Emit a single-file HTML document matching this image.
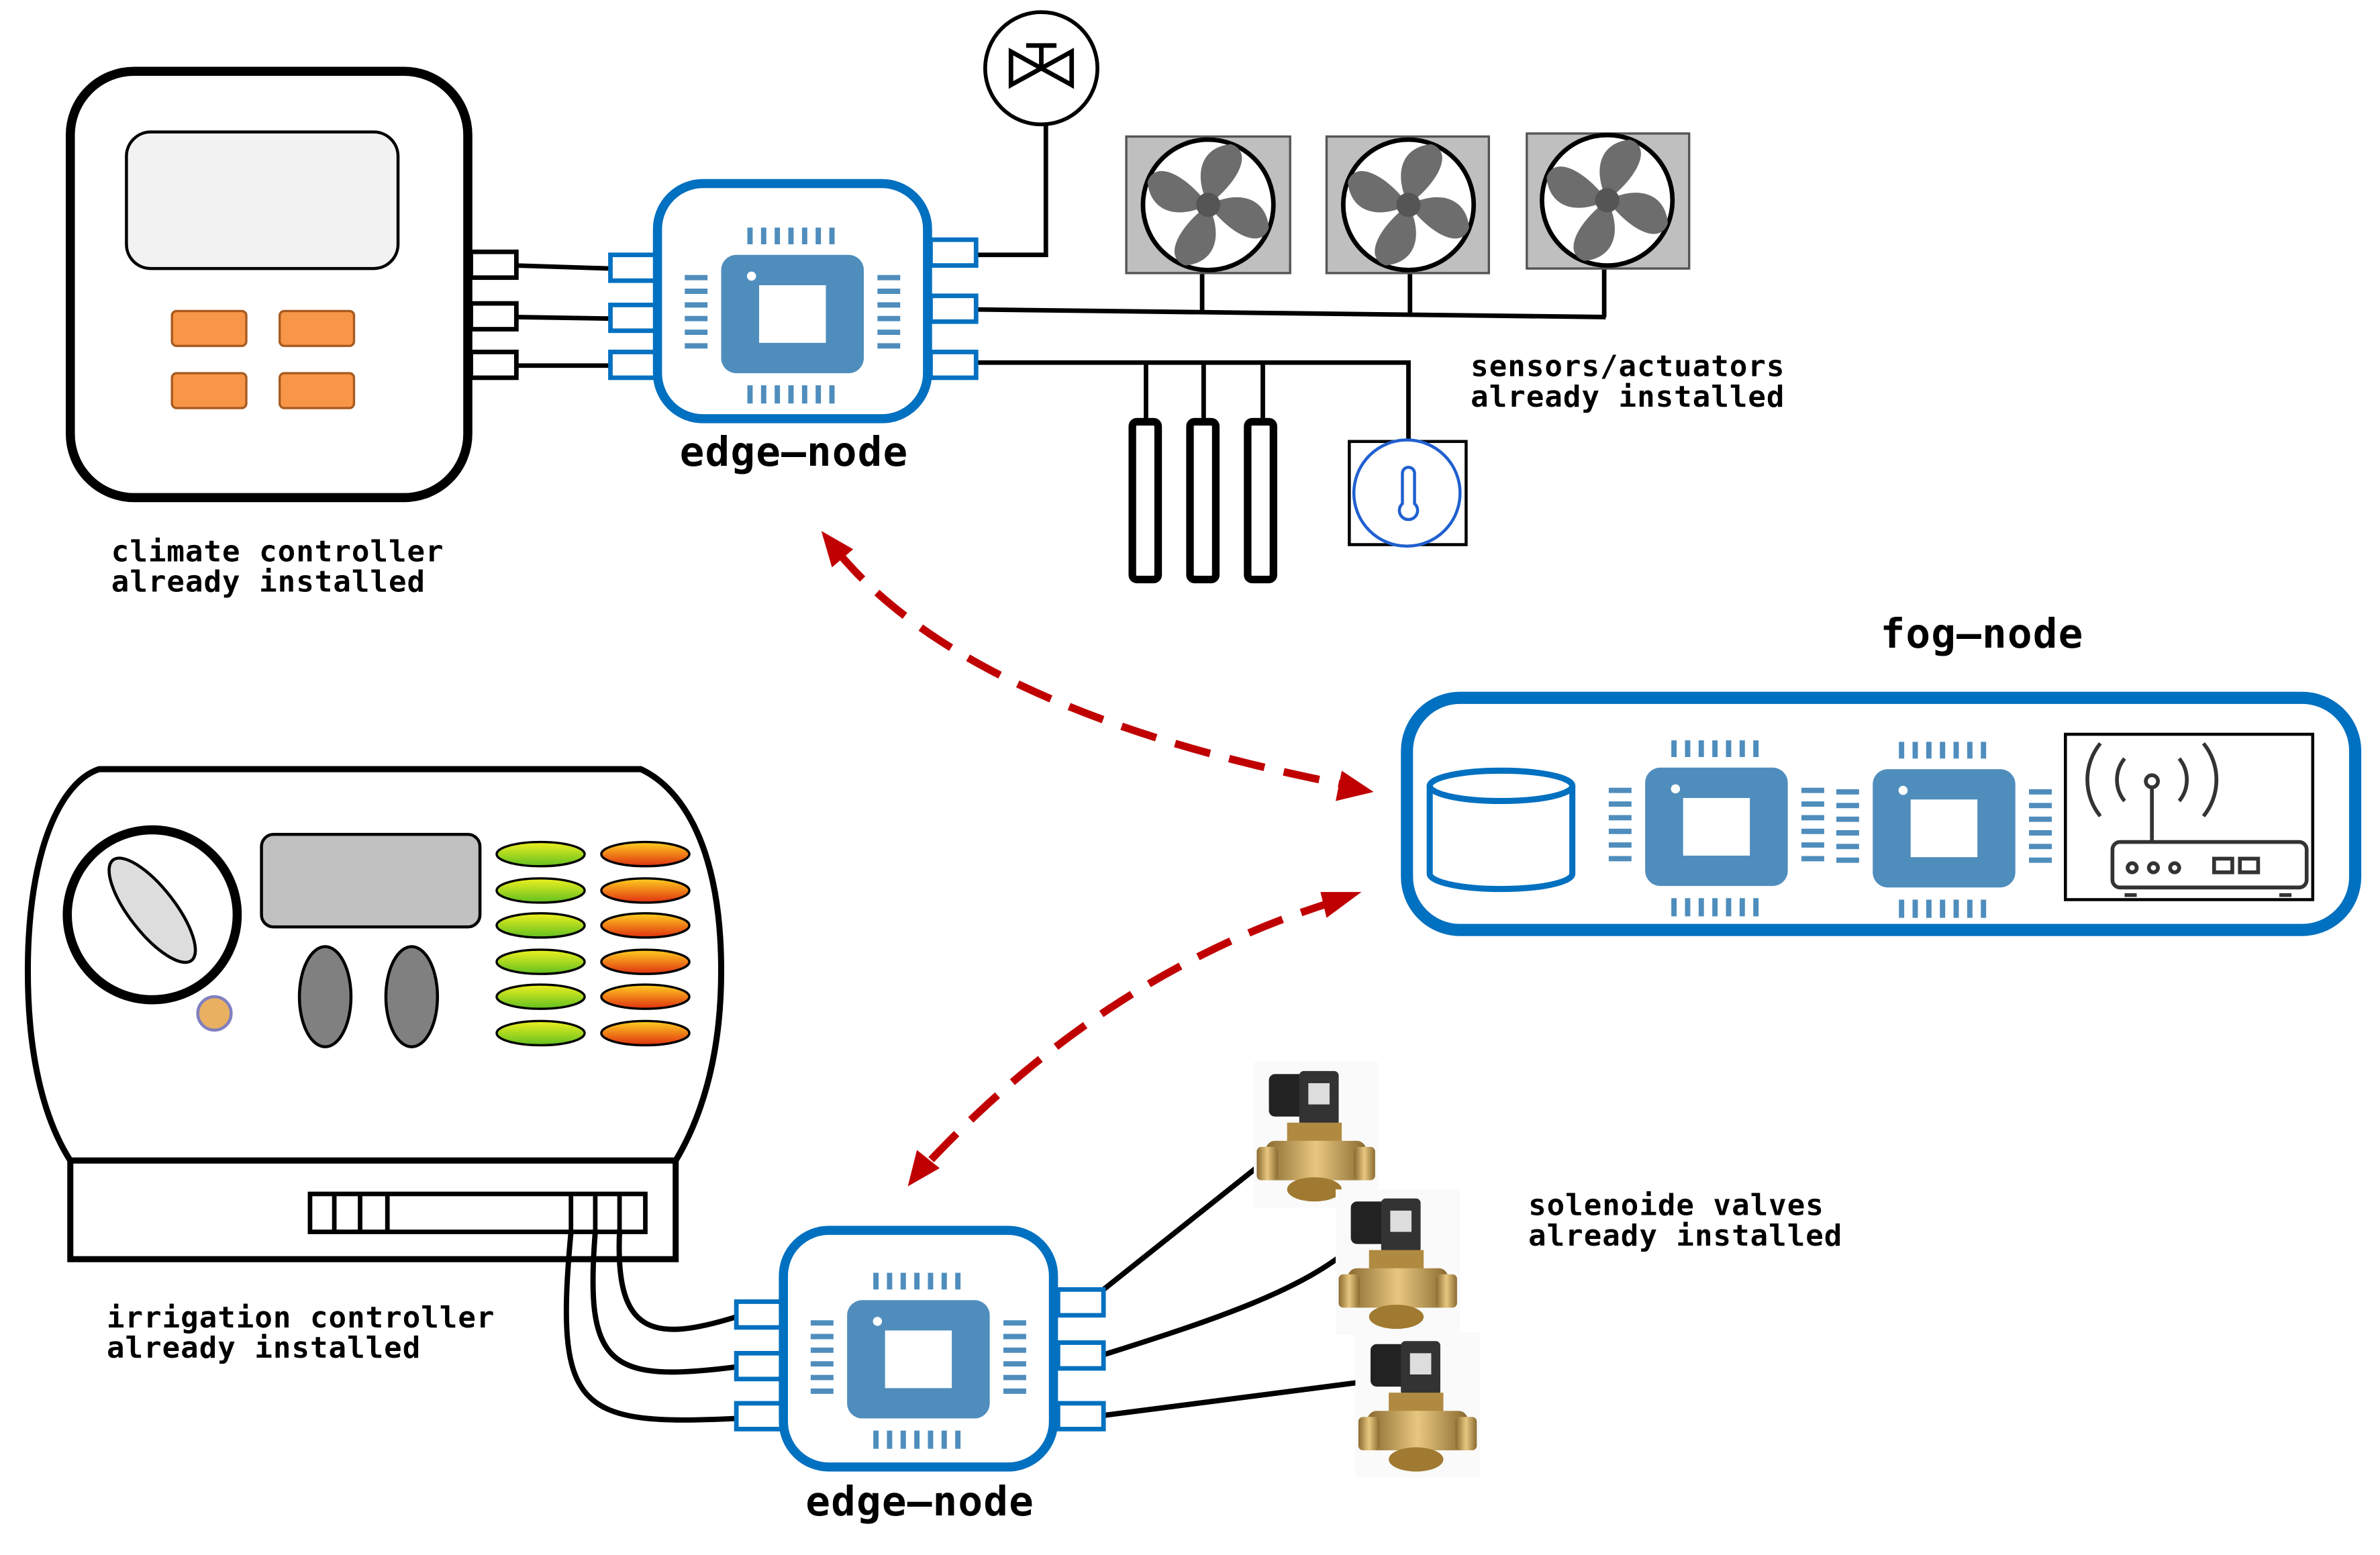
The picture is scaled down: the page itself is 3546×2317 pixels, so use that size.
<!DOCTYPE html>
<html><head><meta charset="utf-8"><style>html,body{margin:0;padding:0;background:#fff}svg{display:block}</style></head><body>
<svg width="3546" height="2317" viewBox="0 0 1568 1025" xmlns="http://www.w3.org/2000/svg">
<defs>
<linearGradient id="gy" x1="0" y1="0" x2="0" y2="1"><stop offset="0" stop-color="#f0f020"/><stop offset="1" stop-color="#60c020"/></linearGradient>
<linearGradient id="or" x1="0" y1="0" x2="0" y2="1"><stop offset="0" stop-color="#ffd020"/><stop offset="1" stop-color="#e03010"/></linearGradient>
<linearGradient id="br" x1="0" y1="0" x2="1" y2="0"><stop offset="0" stop-color="#8a6a30"/><stop offset=".5" stop-color="#e8c880"/><stop offset="1" stop-color="#8a6a30"/></linearGradient>
<g id="chip">
<rect x="-47" y="-39" width="94" height="78" rx="10" fill="#4f8dbd"/>
<rect x="-22" y="-19" width="44" height="38" fill="#fff"/>
<circle cx="-27" cy="-25" r="3" fill="#fff"/>
<g stroke="#4f8dbd" stroke-width="3.5">
<path d="M-28 -57v11M-19 -57v11M-10 -57v11M-1 -57v11M8 -57v11M17 -57v11M26 -57v11"/>
<path d="M-28 47v12M-19 47v12M-10 47v12M-1 47v12M8 47v12M17 47v12M26 47v12"/>
<path d="M-71 -24h15M-71 -15h15M-71 -6h15M-71 3h15M-71 12h15M-71 21h15"/>
<path d="M56 -24h15M56 -15h15M56 -6h15M56 3h15M56 12h15M56 21h15"/>
</g></g>
<g id="fan">
<circle cx="0" cy="0" r="43" fill="#fff" stroke="#000" stroke-width="3"/>
<g fill="#6d6d6d">
<path d="M0 0 C-10 -20 -5 -38 15 -40 C30 -35 20 -15 0 0Z"/>
<path d="M0 0 C20 -10 38 -5 40 15 C35 30 15 20 0 0Z"/>
<path d="M0 0 C10 20 5 38 -15 40 C-30 35 -20 15 0 0Z"/>
<path d="M0 0 C-20 10 -38 5 -40 -15 C-35 -30 -15 -20 0 0Z"/>
</g><circle r="8" fill="#555"/></g>
<g id="valve">
<rect x="0" y="0" width="82" height="96" fill="#fafafa"/>
<rect x="10" y="8" width="40" height="28" rx="4" fill="#222"/>
<rect x="30" y="6" width="26" height="36" rx="3" fill="#333"/>
<rect x="36" y="14" width="14" height="14" fill="#ddd"/>
<rect x="22" y="40" width="36" height="14" fill="#b08a40"/>
<rect x="8" y="52" width="66" height="26" rx="6" fill="url(#br)"/>
<rect x="2" y="56" width="14" height="22" rx="3" fill="url(#br)"/>
<rect x="66" y="56" width="14" height="22" rx="3" fill="url(#br)"/>
<ellipse cx="40" cy="84" rx="18" ry="8" fill="#a07a30"/>
</g>
</defs>

<rect x="46" y="47" width="262" height="281" rx="42" fill="#fff" stroke="#000" stroke-width="6"/>
<rect x="83" y="87" width="179" height="90" rx="16" fill="#f2f2f2" stroke="#000" stroke-width="2"/>
<g fill="#f79646" stroke="#a85b20" stroke-width="1.5">
<rect x="113" y="205" width="49" height="23" rx="3"/><rect x="184" y="205" width="49" height="23" rx="3"/>
<rect x="113" y="246" width="49" height="23" rx="3"/><rect x="184" y="246" width="49" height="23" rx="3"/></g>
<g fill="#fff" stroke="#000" stroke-width="3">
<rect x="310" y="166" width="30" height="17"/><rect x="310" y="200" width="30" height="17"/><rect x="310" y="232" width="30" height="17"/></g>
<g stroke="#000" stroke-width="3" fill="none">
<path d="M340 175 L402 177M340 209 L402 210M340 241 L402 241"/>
<path d="M643 168 H689 V82"/>
<path d="M643 204 L1058 209M792 180V205M929 180V207M1057 177V209"/>
<path d="M643 239 H928 V291M755 239V278M793 239V278M832 239V278"/>
</g>
<g fill="#fff" stroke="#0070c0" stroke-width="3">
<rect x="402" y="168" width="30" height="17"/><rect x="402" y="201" width="30" height="17"/><rect x="402" y="232" width="30" height="17"/>
<rect x="613" y="158" width="30" height="17"/><rect x="613" y="195" width="30" height="17"/><rect x="613" y="232" width="30" height="17"/></g>
<rect x="433" y="121" width="178" height="155" rx="30" fill="#fff" stroke="#0070c0" stroke-width="6"/>
<use href="#chip" x="522" y="207"/>
<g font-family="DejaVu Sans Mono, Liberation Mono, monospace" font-weight="bold" fill="#000">
<g font-size="27" letter-spacing="0.5">
<text x="523" y="307" text-anchor="middle">edge–node</text>
<text x="606" y="999" text-anchor="middle">edge–node</text>
<text x="1306" y="427" text-anchor="middle">fog–node</text>
</g>
<g font-size="19.5" letter-spacing="0.45">
<text x="73" y="370">climate controller</text><text x="73" y="390">already installed</text>
<text x="969" y="248">sensors/actuators</text><text x="969" y="268">already installed</text>
<text x="70" y="875">irrigation controller</text><text x="70" y="895">already installed</text>
<text x="1007" y="801">solenoide valves</text><text x="1007" y="821">already installed</text>
</g></g>
<circle cx="686" cy="45" r="37" fill="#fff" stroke="#000" stroke-width="2.5"/>
<path d="M666 34 L706 56 V34 L666 56Z M686 45 V30 M676 30 H696" fill="none" stroke="#000" stroke-width="3"/>
<rect x="742" y="90" width="108" height="90" fill="#bfbfbf" stroke="#555" stroke-width="1.5"/><use href="#fan" x="796" y="135"/>
<rect x="874" y="90" width="107" height="90" fill="#bfbfbf" stroke="#555" stroke-width="1.5"/><use href="#fan" x="928" y="135"/>
<rect x="1006" y="88" width="107" height="89" fill="#bfbfbf" stroke="#555" stroke-width="1.5"/><use href="#fan" x="1059" y="132"/>
<g fill="#fff" stroke="#000" stroke-width="5">
<rect x="746" y="278" width="17" height="104" rx="3"/><rect x="784" y="278" width="17" height="104" rx="3"/><rect x="822" y="278" width="17" height="104" rx="3"/></g>
<rect x="889" y="291" width="77" height="68" fill="#fff" stroke="#000" stroke-width="2"/>
<circle cx="927" cy="325" r="35" fill="#fff" stroke="#2060d0" stroke-width="2"/>
<path d="M924 312 V332 A6 6 0 1 0 932 332 V312 A4 4 0 0 0 924 312Z" fill="none" stroke="#2060d0" stroke-width="2"/>
<g stroke="#c00000" stroke-width="5" fill="none" stroke-dasharray="24 13">
<path d="M552 364 Q640 470 890 518"/>
<path d="M880 594 Q730 640 610 768"/>
</g>
<g fill="#c00000">
<path d="M541 350 L562 362 L548 374Z"/>
<path d="M905 522 L880 528 L884 508Z"/>
<path d="M897 588 L874 605 L870 588Z"/>
<path d="M598 782 L604 758 L619 770Z"/>
</g>
<rect x="927" y="460" width="625" height="153" rx="35" fill="#fff" stroke="#0070c0" stroke-width="8"/>
<path d="M942 518 V576 A47 10 0 0 0 1036 576 V518" fill="#fff" stroke="#0070c0" stroke-width="4"/>
<ellipse cx="989" cy="518" rx="47" ry="10" fill="#fff" stroke="#0070c0" stroke-width="4"/>
<use href="#chip" x="1131" y="545"/>
<use href="#chip" x="1281" y="546"/>
<rect x="1361" y="484" width="163" height="109" fill="#fff" stroke="#000" stroke-width="2"/>
<g fill="none" stroke="#333" stroke-width="2.5">
<rect x="1392" y="555" width="128" height="30" rx="5"/>
<path d="M1418 555 V518"/><circle cx="1418" cy="515" r="4"/>
<path d="M1400 500 A22 22 0 0 0 1400 528M1436 500 A22 22 0 0 1 1436 528M1384 490 A38 38 0 0 0 1384 538M1452 490 A38 38 0 0 1 1452 538"/>
<circle cx="1405" cy="572" r="3"/><circle cx="1419" cy="572" r="3"/><circle cx="1433" cy="572" r="3"/>
<rect x="1459" y="566" width="12" height="9"/><rect x="1476" y="566" width="12" height="9"/>
<path d="M1400 590 h8 M1502 590 h8"/>
</g>
<path d="M65 507 H422 C450 520 475 560 475 640 C475 700 460 740 445 765 H46 C30 740 18 700 18 640 C18 560 40 515 65 507Z" fill="#fff" stroke="#000" stroke-width="4"/>
<rect x="46" y="765" width="399" height="65" fill="#fff" stroke="#000" stroke-width="4"/>
<rect x="204" y="787" width="221" height="25" fill="#fff" stroke="#000" stroke-width="3"/>
<path d="M220 787v25M237 787v25M255 787v25M376 787v25M392 787v25M408 787v25" stroke="#000" stroke-width="3"/>
<circle cx="100" cy="603" r="56" fill="#fff" stroke="#000" stroke-width="6"/>
<ellipse cx="100" cy="600" rx="15" ry="42" transform="rotate(-38 100 600)" fill="#ddd" stroke="#000" stroke-width="2"/>
<circle cx="141" cy="668" r="11" fill="#e8b060" stroke="#8080c0" stroke-width="2"/>
<rect x="172" y="550" width="144" height="61" rx="8" fill="#c0c0c0" stroke="#000" stroke-width="2"/>
<ellipse cx="214" cy="657" rx="17" ry="33" fill="#808080" stroke="#000" stroke-width="2"/>
<ellipse cx="271" cy="657" rx="17" ry="33" fill="#808080" stroke="#000" stroke-width="2"/>
<g stroke="#000" stroke-width="1.5">
<ellipse cx="356" cy="563" rx="29" ry="8" fill="url(#gy)"/><ellipse cx="356" cy="587" rx="29" ry="8" fill="url(#gy)"/><ellipse cx="356" cy="610" rx="29" ry="8" fill="url(#gy)"/><ellipse cx="356" cy="634" rx="29" ry="8" fill="url(#gy)"/><ellipse cx="356" cy="657" rx="29" ry="8" fill="url(#gy)"/><ellipse cx="356" cy="681" rx="29" ry="8" fill="url(#gy)"/>
<ellipse cx="425" cy="563" rx="29" ry="8" fill="url(#or)"/><ellipse cx="425" cy="587" rx="29" ry="8" fill="url(#or)"/><ellipse cx="425" cy="610" rx="29" ry="8" fill="url(#or)"/><ellipse cx="425" cy="634" rx="29" ry="8" fill="url(#or)"/><ellipse cx="425" cy="657" rx="29" ry="8" fill="url(#or)"/><ellipse cx="425" cy="681" rx="29" ry="8" fill="url(#or)"/>
</g>
<g stroke="#000" stroke-width="3.5" fill="none">
<path d="M408 812 C405 880 430 885 485 868"/>
<path d="M392 812 C385 900 400 912 485 901"/>
<path d="M376 812 C365 930 380 940 485 935"/>
<path d="M727 850 L840 760"/>
<path d="M727 893 C800 870 860 850 893 820"/>
<path d="M727 933 L905 910"/>
</g>
<g fill="#fff" stroke="#0070c0" stroke-width="3">
<rect x="485" y="858" width="30" height="17"/><rect x="485" y="892" width="30" height="17"/><rect x="485" y="925" width="30" height="17"/>
<rect x="697" y="850" width="30" height="17"/><rect x="697" y="885" width="30" height="17"/><rect x="697" y="925" width="30" height="17"/></g>
<rect x="516" y="811" width="178" height="156" rx="30" fill="#fff" stroke="#0070c0" stroke-width="6"/>
<use href="#chip" x="605" y="896"/>
<use href="#valve" x="826" y="700"/>
<use href="#valve" x="880" y="784"/>
<use href="#valve" x="893" y="878"/>
</svg>
</body></html>
